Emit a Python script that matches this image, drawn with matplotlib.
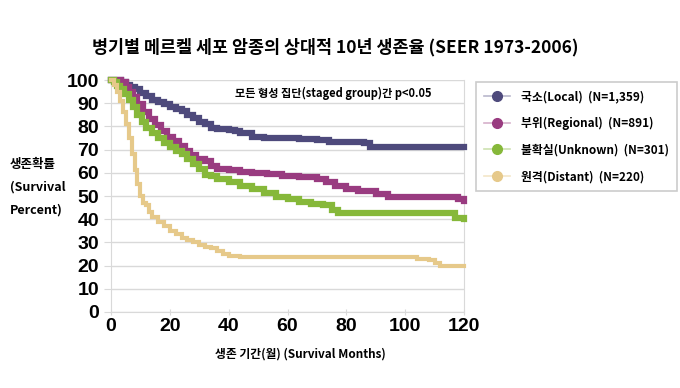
import matplotlib
matplotlib.use("Agg")
import matplotlib.pyplot as plt
from matplotlib.lines import Line2D

plt.rcParams['font.family'] = ['Noto Sans CJK KR', 'DejaVu Sans']

title = "병기별 메르켈 세포 암종의 상대적 10년 생존율 (SEER 1973-2006)"
x_label = "생존 기간(월) (Survival Months)"
y_label = "생존확률\n(Survival\nPercent)"
note = "모든 형성 집단(staged group)간 p<0.05"

labels = ["국소(Local)  (N=1,359)", "부위(Regional)  (N=891)",
          "불확실(Unknown)  (N=301)", "원격(Distant)  (N=220)"]
colors = ["#4e4a7c", "#993b80", "#86b83a", "#e6c98a"]
light_colors = ["#b9b7cc", "#d6b0cb", "#cde2b0", "#f3e6c8"]

local_t = [0, 3.5, 5, 6.5, 8, 10, 12, 14, 16, 18, 20, 22, 24, 26, 28, 30, 32, 34, 36,
           40, 42, 44, 48, 52, 56, 64, 70, 74, 86, 88, 120]
local_s = [100, 99, 98, 97, 96, 94.5, 93, 91.5, 90.5, 89.5, 88.5, 87.5, 86.5, 85, 83.5,
           82, 81, 79.5, 79, 78.5, 78, 77, 75.5, 75, 74.8, 74.4, 74.2, 73.4, 73, 71, 71]

reg_t = [0, 3.5, 5, 6, 7.5, 9, 11, 13, 15, 17, 19, 21, 23, 25, 27, 29, 32, 34, 36, 40,
         44, 48, 53, 58, 64, 70, 73, 76, 80, 84, 90, 94, 116, 118, 120]
reg_s = [100, 99, 97, 95, 92.5, 89.5, 86, 83, 80.5, 78, 75.5, 73.5, 71.5, 69.5, 67.5,
         66, 65, 63, 61.5, 61, 60.5, 60, 59.3, 58.8, 58.4, 57.5, 56, 54.5, 53, 52, 51,
         49.6, 49.6, 48.5, 48]

unk_t = [0, 1, 2, 3, 4.5, 6, 7.5, 9, 10.5, 12, 14, 16, 18, 20, 22, 24, 26, 28, 30, 32,
         34, 36, 40, 44, 48, 52, 56, 60, 64, 68, 72, 75, 77, 116, 117, 120]
unk_s = [100, 99, 97.5, 96, 94, 91.5, 88.5, 85, 82, 79.5, 77, 75, 73, 71, 69.5, 68, 66,
         64, 61.5, 59, 58.5, 57.5, 56, 54.5, 53, 51.5, 49.5, 48.5, 47.5, 46.5, 46, 44,
         42.5, 42.5, 40.5, 40]

dist_t = [0, 1, 2, 3, 4, 5, 6, 7, 8, 9, 10, 11, 12, 13, 14, 16, 18, 20, 22, 24, 26, 28,
          30, 32, 34, 36, 38, 40, 44, 60, 80, 100, 104, 108, 110, 112, 120]
dist_s = [100, 98, 95, 91, 86, 81, 75, 68, 61, 55, 50, 47, 46, 43, 41, 39, 37, 35, 33.5,
          32, 31, 30, 29, 28, 27.5, 26.5, 25, 24, 23.8, 23.8, 23.8, 23.7, 23, 22.5, 21,
          20, 20]

series = [(local_t, local_s), (reg_t, reg_s), (unk_t, unk_s), (dist_t, dist_s)]
widths = [4.5, 4.5, 4.5, 3]

fig = plt.figure(figsize=(6.8, 3.88), dpi=100)
ax = fig.add_axes([111 / 680, 1 - 312 / 388, 353 / 680, 232 / 388])

for (t, s), c, w in zip(series, colors, widths):
    ax.step(t, s, where='post', color=c, lw=w, clip_on=False, zorder=3,
            solid_joinstyle='miter')

ax.set_xlim(0, 120)
ax.set_ylim(0, 100)
ax.set_xticks(range(0, 121, 20))
ax.set_yticks(range(0, 101, 10))
ax.yaxis.grid(True, color="#d9d9d9", lw=1)
ax.set_axisbelow(True)
for side in ['left', 'bottom', 'right']:
    ax.spines[side].set_color("#d9d9d9")
ax.spines['top'].set_visible(False)
ax.tick_params(axis='both', colors="#d9d9d9", labelcolor="black", length=5)
ax.tick_params(axis='x', direction='inout', pad=2)
for lab in ax.get_xticklabels() + ax.get_yticklabels():
    lab.set_fontfamily('Liberation Sans')
    lab.set_fontweight('bold')
    lab.set_fontsize(14)

fig.text(335 / 680, 1 - 47 / 388, title, ha='center', va='center',
         fontsize=12.5, fontweight='bold')
fig.text(300 / 680, 1 - 354 / 388, x_label, ha='center', va='center',
         fontsize=8.5, fontweight='bold')
fig.text(10 / 680, 1 - 187 / 388, y_label, ha='left', va='center',
         fontsize=9, fontweight='bold', linespacing=2.0)
fig.text(333 / 680, 1 - 93 / 388, note, ha='center', va='center',
         fontsize=8, fontweight='bold')

handles = [(Line2D([0], [0], color=lc, lw=1.2),
            Line2D([0], [0], color=c, lw=0, marker='o', ms=7))
           for c, lc in zip(colors, light_colors)]
leg = fig.legend(handles, labels, loc='upper left',
                 bbox_to_anchor=(470 / 680, 1 - 76 / 388),
                 frameon=True, fancybox=False, edgecolor="#bfbfbf",
                 prop={'weight': 'bold', 'size': 8.5}, labelspacing=1.15,
                 handlelength=2.2, borderpad=0.7, handletextpad=0.9)
leg.get_frame().set_linewidth(1.2)

fig.savefig("out.png", dpi=100)
